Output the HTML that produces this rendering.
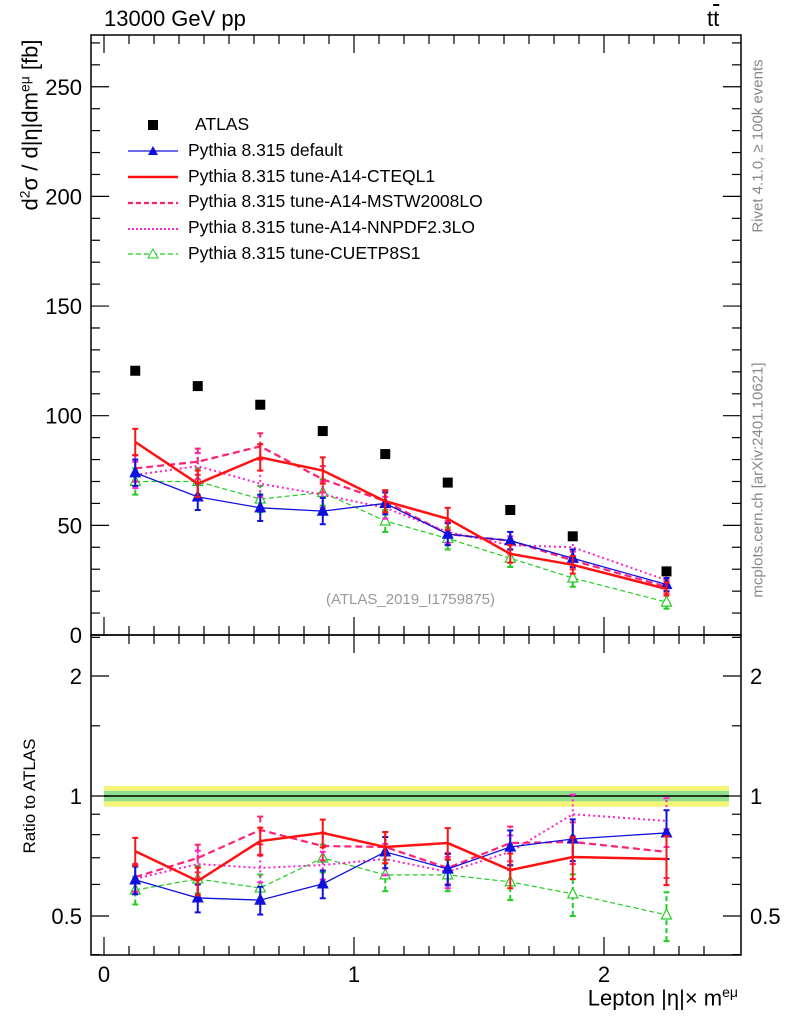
<!DOCTYPE html>
<html><head><meta charset="utf-8"><style>
body{margin:0;background:#fff;}
svg{display:block;font-family:"Liberation Sans",sans-serif;}
</style></head><body>
<svg id="c" width="786" height="1024" viewBox="0 0 786 1024"></svg>
<script>
const xs=[0.125,0.375,0.625,0.875,1.125,1.375,1.625,1.875,2.25];
const atlas=[120.5,113.5,105,93,82.5,69.5,57,45,29];
const sDefault=[74,63,58,56.5,60,46,43,35,23];
const sCteq=[88,69,81,75,61,53,37,32,21];
const sMstw=[76,79,86,71,61,46,43,34,22];
const sNnpdf=[73,77,69,64,58,47,41,40,25];
const sCuetp=[70,70,62,65,52,44,35,26,15];
const rDefault=[0.616,0.555,0.548,0.602,0.724,0.656,0.745,0.78,0.808];
const rCteq=[0.727,0.612,0.771,0.808,0.745,0.762,0.652,0.703,0.695];
const rMstw=[0.626,0.699,0.822,0.749,0.745,0.66,0.762,0.767,0.724];
const rNnpdf=[0.62,0.675,0.66,0.671,0.695,0.645,0.724,0.9,0.866];
const rCuetp=[0.581,0.619,0.588,0.699,0.634,0.634,0.609,0.568,0.503];
const mainErr=[6,6,6,6,5,5,4,4,3];
const ratioRelErr=[0.08,0.08,0.08,0.08,0.09,0.09,0.1,0.12,0.14];
const yTicks=[0,50,100,150,200,250];
const rTicks=[0.5,1,2];
const xTicks=[0,1,2];

const svg=document.getElementById('c');
const NS='http://www.w3.org/2000/svg';
function el(t,a,p){const e=document.createElementNS(NS,t);for(const k in a)e.setAttribute(k,a[k]);(p||svg).appendChild(e);return e;}
const L=91,R=741,T=35,M=635,B=955;
const X=v=>104+v*250;
const Y=v=>635-v*2.193;
const RY=v=>796-Math.log2(v)*120;

let b=el('rect',{x:X(0),y:RY(1.06),width:X(2.5)-X(0),height:RY(0.94)-RY(1.06),fill:'#f5f57a'});

b=el('rect',{x:X(0),y:RY(1.03),width:X(2.5)-X(0),height:RY(0.97)-RY(1.03),fill:'#8ee08e'});

el('line',{x1:X(0),x2:X(2.5),y1:RY(1),y2:RY(1),stroke:'#000','stroke-width':1.5});

function series(vals,lo,hi,yf,color,dash,width,marker,name){
  const g=el('g',{});
  
  for(let i=0;i<vals.length;i++){
    const x=X(xs[i]);
    el('line',{x1:x,x2:x,y1:yf(lo[i]),y2:yf(hi[i]),stroke:color,'stroke-width':2,'stroke-dasharray':dash},g);
    el('line',{x1:x-3,x2:x+3,y1:yf(lo[i]),y2:yf(lo[i]),stroke:color,'stroke-width':2},g);
    el('line',{x1:x-3,x2:x+3,y1:yf(hi[i]),y2:yf(hi[i]),stroke:color,'stroke-width':2},g);
  }
  el('polyline',{points:vals.map((v,i)=>X(xs[i])+','+yf(v)).join(' '),fill:'none',stroke:color,'stroke-width':width,'stroke-dasharray':dash},g);
  if(marker){for(let i=0;i<vals.length;i++){const x=X(xs[i]),y=yf(vals[i]);
    el('polygon',{points:`${x-5},${y+4} ${x+5},${y+4} ${x},${y-6}`,fill:marker=='fill'?color:'#fff',stroke:color,'stroke-width':1.2},g);}}
}
function all(yf,d,loF,hiF){
  const s=(v)=>[v.map(loF),v.map(hiF)];
  const defs=[[4,'#22cc22','5,3',1.2,'open','cuetp8s1-'],[3,'#ff22cc','2,3',2,null,'nnpdf-'],[2,'#ff2277','7,4',2.2,null,'mstw-'],[0,'#1111dd','',1.3,'fill','default-'],[1,'#ff1111','',2.5,null,'cteql1-']];
  defs.forEach(([k,c,da,w,m,n])=>{const v=d[k];series(v,v.map(loF),v.map(hiF),yf,c,da,w,m,n+d[5]);});
}
all(Y,[sDefault,sCteq,sMstw,sNnpdf,sCuetp,'main'],(v,i)=>v-mainErr[i],(v,i)=>v+mainErr[i]);
all(RY,[rDefault,rCteq,rMstw,rNnpdf,rCuetp,'ratio'],(v,i)=>v*(1-ratioRelErr[i]),(v,i)=>v*(1+ratioRelErr[i]));
const ag=el('g',{});
atlas.forEach((v,i)=>el('rect',{x:X(xs[i])-5,y:Y(v)-5,width:10,height:10,fill:'#000'},ag));

el('rect',{x:L,y:T,width:R-L,height:M-T,fill:'none',stroke:'#000','stroke-width':1.5});
el('rect',{x:L,y:M,width:R-L,height:B-M,fill:'none',stroke:'#000','stroke-width':1.5});
for(let v=0;v<=2.5;v+=0.1){const mj=Math.abs(v-Math.round(v))<1e-6;const h=mj?18:9;const x=X(v);
  [[M,-1],[T,1],[B,-1]].forEach(([y0,s])=>el('line',{x1:x,x2:x,y1:y0,y2:y0+s*h,stroke:'#000','stroke-width':1.2}));
  if(v>0.01)el('line',{x1:x,x2:x,y1:M,y2:M+h,stroke:'#000','stroke-width':1.2});}
xTicks.forEach(v=>{const t=el('text',{x:X(v),y:982,'font-size':22,'text-anchor':'middle'});t.textContent=v;});
for(let v=0;v<=270;v+=10){const mj=v%50==0,h=mj?18:9;el('line',{x1:L,x2:L+h,y1:Y(v),y2:Y(v),stroke:'#000','stroke-width':1.2});el('line',{x1:R,x2:R-h,y1:Y(v),y2:Y(v),stroke:'#000','stroke-width':1.2});}
yTicks.forEach(v=>{const t=el('text',{x:82,y:Y(v)+8,'font-size':22,'text-anchor':'end'});t.textContent=v;});
[0.4,0.5,0.6,0.7,0.8,0.9,1,1.5,2,2.5].forEach(v=>{const mj=rTicks.includes(v),h=mj?18:9;el('line',{x1:L,x2:L+h,y1:RY(v),y2:RY(v),stroke:'#000','stroke-width':1.2});el('line',{x1:R,x2:R-h,y1:RY(v),y2:RY(v),stroke:'#000','stroke-width':1.2});});
rTicks.forEach(v=>{let t=el('text',{x:82,y:RY(v)+8,'font-size':22,'text-anchor':'end'});t.textContent=v;
 t=el('text',{x:750,y:RY(v)+8,'font-size':22});t.textContent=v;});
</script>
<div style="position:absolute;left:0;top:0;width:786px;height:1024px;font-family:'Liberation Sans',sans-serif;pointer-events:none">
<div style="position:absolute;left:104px;top:6px;font-size:22px">13000 GeV pp</div>
<div style="position:absolute;left:707px;top:6px;font-size:22px">t<span style="text-decoration:overline">t</span></div>
<div style="position:absolute;left:30px;top:125px;font-size:22px;transform:translate(-50%,-50%) rotate(-90deg);white-space:nowrap">d<sup style="font-size:14px">2</sup>σ / d|η|dm<sup style="font-size:14px">eμ</sup> [fb]</div>
<div style="position:absolute;left:30px;top:796px;font-size:17px;transform:translate(-50%,-50%) rotate(-90deg);white-space:nowrap">Ratio to ATLAS</div>
<div style="position:absolute;right:48px;top:984px;font-size:22px;white-space:nowrap">Lepton |η|× m<sup style="font-size:14px">eμ</sup></div>
<div style="position:absolute;left:758px;top:146px;font-size:15px;color:#888;transform:translate(-50%,-50%) rotate(-90deg);white-space:nowrap">Rivet 4.1.0, ≥ 100k events</div>
<div style="position:absolute;left:758px;top:480px;font-size:15px;color:#888;transform:translate(-50%,-50%) rotate(-90deg);white-space:nowrap">mcplots.cern.ch [arXiv:2401.10621]</div>
<div style="position:absolute;left:326px;top:591px;font-size:15px;color:#999">(ATLAS_2019_I1759875)</div>
<div style="position:absolute;left:128px;top:112px;font-size:17.5px;line-height:25.8px">
<div><span style="display:inline-block;width:10px;height:10px;background:#000;margin:0 37px 0 20px"></span>ATLAS</div>
<div><svg width="52" height="12" style="display:inline;vertical-align:middle;margin-right:8px"><line x1="0" x2="50" y1="6" y2="6" stroke="#1111dd" stroke-width="1.3"/><polygon points="20,10 30,10 25,1" fill="#1111dd"/></svg>Pythia 8.315 default</div>
<div><svg width="52" height="12" style="display:inline;vertical-align:middle;margin-right:8px"><line x1="0" x2="50" y1="6" y2="6" stroke="#ff1111" stroke-width="2.5"/></svg>Pythia 8.315 tune-A14-CTEQL1</div>
<div><svg width="52" height="12" style="display:inline;vertical-align:middle;margin-right:8px"><line x1="0" x2="50" y1="6" y2="6" stroke="#ff2277" stroke-width="2.2" stroke-dasharray="5,3"/></svg>Pythia 8.315 tune-A14-MSTW2008LO</div>
<div><svg width="52" height="12" style="display:inline;vertical-align:middle;margin-right:8px"><line x1="0" x2="50" y1="6" y2="6" stroke="#ff22cc" stroke-width="2" stroke-dasharray="2,2"/></svg>Pythia 8.315 tune-A14-NNPDF2.3LO</div>
<div><svg width="52" height="12" style="display:inline;vertical-align:middle;margin-right:8px"><line x1="0" x2="50" y1="6" y2="6" stroke="#22cc22" stroke-width="1.2" stroke-dasharray="5,3"/><polygon points="20,10 30,10 25,1" fill="#fff" stroke="#22cc22"/></svg>Pythia 8.315 tune-CUETP8S1</div>
</div>
</div>
</body></html>
